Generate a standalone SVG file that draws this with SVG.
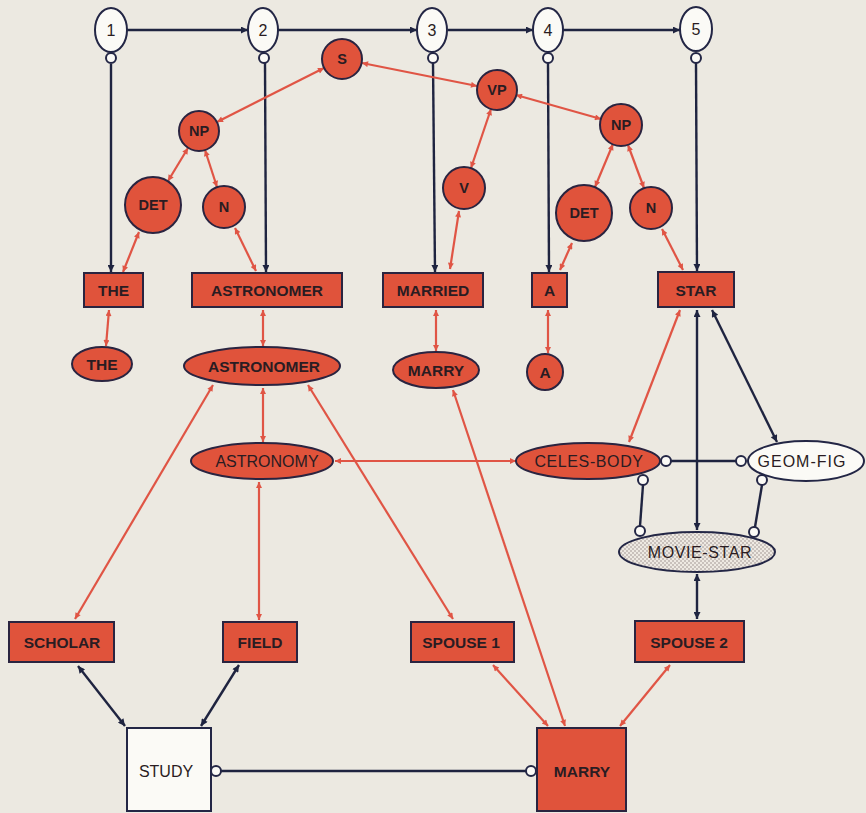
<svg xmlns="http://www.w3.org/2000/svg" width="866" height="813" viewBox="0 0 866 813">
<defs>
<style>
.bg{fill:#ece9e1}
.rn{fill:#e0533b;stroke:#2a2440;stroke-width:2}
.wn{fill:#fbfaf6;stroke:#232645;stroke-width:2}
.sc{fill:#f3f1ec;stroke:#232645;stroke-width:2}
.rl{stroke:#e05545;stroke-width:2.2;fill:none}
.dl{stroke:#1f2440;stroke-width:2.4;fill:none}
.t{font-family:"Liberation Sans",Arial,sans-serif;fill:#2a1c22;text-anchor:middle;dominant-baseline:central}
.b{font-weight:bold;font-size:15.5px}
.n{font-size:16px}
.k{font-size:14.5px;font-weight:bold}
</style>
<marker id="ar" viewBox="0 0 10 10" refX="10" refY="5" markerUnits="userSpaceOnUse" markerWidth="9" markerHeight="6" orient="auto-start-reverse"><path d="M0,0 L10,5 L0,10 z" fill="#e05545"/></marker>
<marker id="ad" viewBox="0 0 10 10" refX="10" refY="5" markerUnits="userSpaceOnUse" markerWidth="10" markerHeight="7" orient="auto-start-reverse"><path d="M0,0 L10,5 L0,10 z" fill="#1f2440"/></marker>
<pattern id="dots" width="4" height="4" patternUnits="userSpaceOnUse"><rect width="4" height="4" fill="#eee9e2"/><circle cx="1" cy="1" r="0.8" fill="#9a8f8c"/><circle cx="3" cy="3" r="0.8" fill="#9a8f8c"/></pattern>
</defs>
<rect class="bg" x="0" y="0" width="866" height="813"/>

<g id="connectors">
<!-- top sequence -->
<line class="dl" x1="127" y1="30" x2="248" y2="30" marker-end="url(#ad)"/>
<line class="dl" x1="278" y1="30" x2="417" y2="30" marker-end="url(#ad)"/>
<line class="dl" x1="448" y1="30" x2="533" y2="30" marker-end="url(#ad)"/>
<line class="dl" x1="563" y1="30" x2="680" y2="30" marker-end="url(#ad)"/>
<!-- verticals to words -->
<line class="dl" x1="111" y1="64" x2="111" y2="272" marker-end="url(#ad)"/>
<line class="dl" x1="265" y1="63" x2="266" y2="272" marker-end="url(#ad)"/>
<line class="dl" x1="433" y1="63" x2="435" y2="272" marker-end="url(#ad)"/>
<line class="dl" x1="548" y1="63" x2="549" y2="272" marker-end="url(#ad)"/>
<line class="dl" x1="696" y1="63" x2="697" y2="271" marker-end="url(#ad)"/>
<!-- tree -->
<line class="rl" x1="324" y1="68" x2="217" y2="122" marker-start="url(#ar)" marker-end="url(#ar)"/>
<line class="rl" x1="362" y1="63" x2="477" y2="86" marker-start="url(#ar)" marker-end="url(#ar)"/>
<line class="rl" x1="516" y1="95" x2="601" y2="119" marker-start="url(#ar)" marker-end="url(#ar)"/>
<line class="rl" x1="188" y1="148" x2="168" y2="181" marker-start="url(#ar)" marker-end="url(#ar)"/>
<line class="rl" x1="205" y1="150" x2="217" y2="187" marker-start="url(#ar)" marker-end="url(#ar)"/>
<line class="rl" x1="491" y1="109" x2="471" y2="168" marker-start="url(#ar)" marker-end="url(#ar)"/>
<line class="rl" x1="613" y1="144" x2="595" y2="187" marker-start="url(#ar)" marker-end="url(#ar)"/>
<line class="rl" x1="628" y1="145" x2="644" y2="188" marker-start="url(#ar)" marker-end="url(#ar)"/>
<line class="rl" x1="139" y1="232" x2="123" y2="272" marker-start="url(#ar)" marker-end="url(#ar)"/>
<line class="rl" x1="235" y1="228" x2="256" y2="271" marker-start="url(#ar)" marker-end="url(#ar)"/>
<line class="rl" x1="459" y1="211" x2="450" y2="269" marker-start="url(#ar)" marker-end="url(#ar)"/>
<line class="rl" x1="572" y1="243" x2="560" y2="270" marker-start="url(#ar)" marker-end="url(#ar)"/>
<line class="rl" x1="662" y1="229" x2="683" y2="270" marker-start="url(#ar)" marker-end="url(#ar)"/>
<!-- words to lexical -->
<line class="rl" x1="109" y1="310" x2="106" y2="346" marker-start="url(#ar)" marker-end="url(#ar)"/>
<line class="rl" x1="263" y1="310" x2="263" y2="346" marker-start="url(#ar)" marker-end="url(#ar)"/>
<line class="rl" x1="436" y1="310" x2="436" y2="351" marker-start="url(#ar)" marker-end="url(#ar)"/>
<line class="rl" x1="548" y1="310" x2="548" y2="353" marker-start="url(#ar)" marker-end="url(#ar)"/>
<!-- semantic -->
<line class="rl" x1="263" y1="388" x2="263" y2="442" marker-start="url(#ar)" marker-end="url(#ar)"/>
<line class="rl" x1="259" y1="482" x2="259" y2="620" marker-start="url(#ar)" marker-end="url(#ar)"/>
<line class="rl" x1="213" y1="385" x2="75" y2="619" marker-start="url(#ar)" marker-end="url(#ar)"/>
<line class="rl" x1="308" y1="385" x2="453" y2="619" marker-start="url(#ar)" marker-end="url(#ar)"/>
<line class="rl" x1="335" y1="461" x2="516" y2="461" marker-start="url(#ar)" marker-end="url(#ar)"/>
<line class="rl" x1="453" y1="390" x2="565" y2="726" marker-start="url(#ar)" marker-end="url(#ar)"/>
<line class="rl" x1="680" y1="310" x2="629" y2="442" marker-start="url(#ar)" marker-end="url(#ar)"/>
<line class="rl" x1="493" y1="665" x2="548" y2="726" marker-start="url(#ar)" marker-end="url(#ar)"/>
<line class="rl" x1="670" y1="665" x2="620" y2="726" marker-start="url(#ar)" marker-end="url(#ar)"/>
<!-- dark semantic -->
<line class="dl" x1="697" y1="310" x2="697" y2="530" marker-start="url(#ad)" marker-end="url(#ad)"/>
<line class="dl" x1="712" y1="310" x2="777" y2="442" marker-start="url(#ad)" marker-end="url(#ad)"/>
<line class="dl" x1="671" y1="461" x2="736" y2="461"/>
<line class="dl" x1="643" y1="485" x2="640" y2="526"/>
<line class="dl" x1="762" y1="485" x2="755" y2="527"/>
<line class="dl" x1="697" y1="574" x2="697" y2="619" marker-start="url(#ad)" marker-end="url(#ad)"/>
<line class="dl" x1="78" y1="666" x2="125" y2="726" marker-start="url(#ad)" marker-end="url(#ad)"/>
<line class="dl" x1="239" y1="665" x2="201" y2="726" marker-start="url(#ad)" marker-end="url(#ad)"/>
<line class="dl" x1="221" y1="771" x2="526" y2="771"/>
<!-- small circles -->
<circle class="wn" cx="111" cy="58" r="5"/>
<circle class="wn" cx="264" cy="58" r="5"/>
<circle class="wn" cx="433" cy="58" r="5"/>
<circle class="wn" cx="548" cy="58" r="5"/>
<circle class="wn" cx="696" cy="58" r="5"/>
<circle class="wn" cx="666" cy="461" r="5"/>
<circle class="wn" cx="741" cy="461" r="5"/>
<circle class="wn" cx="643" cy="480" r="5"/>
<circle class="wn" cx="640" cy="531" r="5"/>
<circle class="wn" cx="762" cy="480" r="5"/>
<circle class="wn" cx="754" cy="532" r="5"/>
<circle class="wn" cx="216" cy="771" r="5"/>
<circle class="wn" cx="531" cy="771" r="5"/>
</g>

<g id="p1"><ellipse class="wn" cx="111" cy="30" rx="16" ry="22"/><text class="t n" x="111" y="30">1</text></g>
<g id="p2"><ellipse class="wn" cx="263" cy="30" rx="15" ry="22"/><text class="t n" x="263" y="30">2</text></g>
<g id="p3"><ellipse class="wn" cx="432" cy="30" rx="15" ry="22"/><text class="t n" x="432" y="30">3</text></g>
<g id="p4"><ellipse class="wn" cx="548" cy="30" rx="15" ry="22"/><text class="t n" x="548" y="30">4</text></g>
<g id="p5"><ellipse class="wn" cx="696" cy="29" rx="16" ry="22"/><text class="t n" x="696" y="29">5</text></g>

<g id="S"><circle class="rn" cx="342" cy="59" r="20"/><text class="t k" x="342" y="59">S</text></g>
<g id="NP1"><circle class="rn" cx="199" cy="131" r="20"/><text class="t k" x="199" y="131">NP</text></g>
<g id="VP"><circle class="rn" cx="497" cy="90" r="20"/><text class="t k" x="497" y="90">VP</text></g>
<g id="NP2"><circle class="rn" cx="621" cy="125" r="21"/><text class="t k" x="621" y="125">NP</text></g>
<g id="DET1"><circle class="rn" cx="153" cy="205" r="28"/><text class="t k" x="153" y="205">DET</text></g>
<g id="N1"><circle class="rn" cx="224" cy="207" r="21"/><text class="t k" x="224" y="207">N</text></g>
<g id="V"><circle class="rn" cx="464" cy="188" r="21"/><text class="t k" x="464" y="188">V</text></g>
<g id="DET2"><circle class="rn" cx="584" cy="213" r="28"/><text class="t k" x="584" y="213">DET</text></g>
<g id="N2"><circle class="rn" cx="651" cy="208" r="21"/><text class="t k" x="651" y="208">N</text></g>

<g id="wTHE"><rect class="rn" x="84" y="273" width="59" height="34"/><text class="t b" x="113.5" y="290">THE</text></g>
<g id="wASTRONOMER"><rect class="rn" x="192" y="273" width="150" height="34"/><text class="t b" x="267" y="290">ASTRONOMER</text></g>
<g id="wMARRIED"><rect class="rn" x="383" y="273" width="100" height="34"/><text class="t b" x="433" y="290">MARRIED</text></g>
<g id="wA"><rect class="rn" x="532" y="273" width="35" height="34"/><text class="t b" x="549.5" y="290">A</text></g>
<g id="wSTAR"><rect class="rn" x="658" y="272" width="76" height="35"/><text class="t b" x="696" y="290">STAR</text></g>

<g id="lTHE"><ellipse class="rn" cx="102" cy="364" rx="30" ry="17"/><text class="t b" x="102" y="364">THE</text></g>
<g id="lASTRONOMER"><ellipse class="rn" cx="262" cy="366" rx="78" ry="19"/><text class="t b" x="264" y="366">ASTRONOMER</text></g>
<g id="lMARRY"><ellipse class="rn" cx="436" cy="370" rx="43" ry="18"/><text class="t b" x="436" y="370">MARRY</text></g>
<g id="lA"><circle class="rn" cx="545" cy="372" r="18"/><text class="t b" x="545" y="372">A</text></g>

<g id="ASTRONOMY"><ellipse class="rn" cx="262" cy="461" rx="71" ry="18"/><text class="t n" x="267" y="461">ASTRONOMY</text></g>
<g id="CELESBODY"><ellipse class="rn" cx="588" cy="461" rx="72" ry="18"/><text class="t n" x="589" y="461" letter-spacing="0.6">CELES-BODY</text></g>
<g id="GEOMFIG"><ellipse class="wn" cx="806" cy="461" rx="58" ry="20"/><text class="t n" x="802" y="461" letter-spacing="1">GEOM-FIG</text></g>
<g id="MOVIESTAR"><ellipse cx="697" cy="552" rx="78" ry="20" fill="url(#dots)" stroke="#232645" stroke-width="2"/><text class="t n" x="700" y="552" letter-spacing="0.6">MOVIE-STAR</text></g>

<g id="SCHOLAR"><rect class="rn" x="9" y="622" width="105" height="40"/><text class="t b" x="62" y="642">SCHOLAR</text></g>
<g id="FIELD"><rect class="rn" x="223" y="622" width="74" height="40"/><text class="t b" x="260" y="642">FIELD</text></g>
<g id="SPOUSE1"><rect class="rn" x="411" y="622" width="103" height="40"/><text class="t b" x="461" y="642">SPOUSE 1</text></g>
<g id="SPOUSE2"><rect class="rn" x="635" y="621" width="109" height="41"/><text class="t b" x="689" y="642">SPOUSE 2</text></g>
<g id="STUDY"><rect class="wn" x="127" y="728" width="84" height="83"/><text class="t n" x="166" y="771">STUDY</text></g>
<g id="MARRYbox"><rect class="rn" x="537" y="728" width="89" height="83"/><text class="t b" x="582" y="771">MARRY</text></g>
</svg>
